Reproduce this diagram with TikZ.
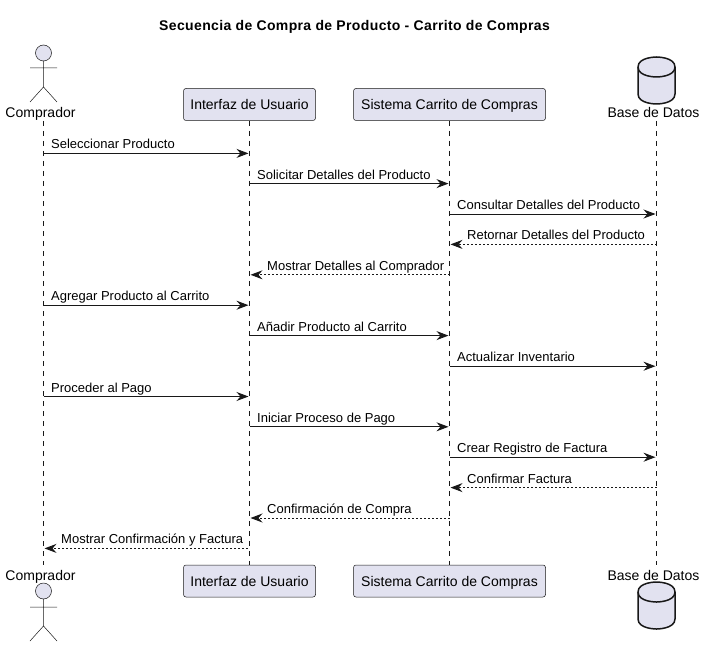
\documentclass[tikz,border=0pt]{standalone}
\usepackage{fontspec}
\setmainfont{Liberation Sans}
\usetikzlibrary{arrows.meta}
\definecolor{partfill}{HTML}{E2E2F0}
\definecolor{partline}{HTML}{181818}
\tikzset{
  x=1pt,y=-1pt,
  msgtext/.style={inner sep=0pt,anchor=base west,font=\fontsize{13}{15}\selectfont,text=black},
  parttext/.style={inner sep=0pt,anchor=base,font=\fontsize{14}{16}\selectfont,text=black},
  titletext/.style={inner sep=0pt,anchor=base,font=\fontsize{14}{16}\selectfont\bfseries\addfontfeature{LetterSpace=2.6},text=black},
  partbox/.style={draw=partline,line width=0.5pt,fill=partfill,rounded corners=2.5pt,minimum height=32pt,inner sep=0pt,anchor=center,text height=11pt,text depth=0pt,font=\fontsize{14}{16}\selectfont},
  lifeline/.style={draw=partline,line width=0.5pt,dash pattern=on 5pt off 5pt},
  actorline/.style={draw=partline,line width=0.5pt},
  dbline/.style={draw=partline,line width=1.5pt,fill=partfill},
  call/.style={draw=partline,line width=1pt,-{Stealth[length=12pt,width=9pt,inset=4pt]}},
  reply/.style={draw=partline,line width=1pt,dash pattern=on 2pt off 2pt,-{Stealth[length=12pt,width=9pt,inset=4pt]}},
}
\begin{document}
\begin{tikzpicture}
\useasboundingbox (0,0) rectangle (706,647);
% title
\node[titletext] (title) at (354.5,30.5) {Secuencia de Compra de Producto - Carrito de Compras};
% lifeline anchors
\coordinate (buyerT) at (43.5,121);
\coordinate (buyerB) at (43.5,565);
\coordinate (dbT) at (656.5,121);
\coordinate (dbB) at (656.5,565);
% participants
\node[partbox,minimum width=132pt] (uiT) at (249.5,104.5) {Interfaz de Usuario};
\node[partbox,minimum width=132pt] (uiB) at (249.5,581) {Interfaz de Usuario};
\node[partbox,minimum width=192pt] (sysT) at (449.5,104.5) {Sistema Carrito de Compras};
\node[partbox,minimum width=192pt] (sysB) at (449.5,581) {Sistema Carrito de Compras};
\node[parttext] (buyerLT) at (40.5,118) {Comprador};
\node[parttext] (buyerLB) at (40.5,580) {Comprador};
\node[parttext] (dbLT) at (653.5,118) {Base de Datos};
\node[parttext] (dbLB) at (653.5,580) {Base de Datos};
% lifelines
\draw[lifeline] (buyerT) -- (buyerB);
\draw[lifeline] (uiT) -- (uiB);
\draw[lifeline] (sysT) -- (sysB);
\draw[lifeline] (dbT) -- (dbB);
% actors
\draw[actorline,fill=partfill] (43.5,53) circle (8);
\draw[actorline] (43.5,61) -- (43.5,87) (30,68) -- (57,68) (30,102) -- (43.5,87) -- (57,102);
\draw[actorline,fill=partfill] (43.5,591) circle (8);
\draw[actorline] (43.5,599) -- (43.5,626) (30,607) -- (57,607) (30,641) -- (43.5,626) -- (57,641);
% databases
\draw[dbline] (638,67) .. controls (638,57) and (656.5,57) .. (656.5,57) .. controls (656.5,57) and (675,57) .. (675,67) -- (675,94) .. controls (675,104) and (656.5,104) .. (656.5,104) .. controls (656.5,104) and (638,104) .. (638,94) -- cycle;
\draw[draw=partline,line width=1.5pt] (638,67) .. controls (638,77) and (656.5,77) .. (656.5,77) .. controls (656.5,77) and (675,77) .. (675,67);
\draw[dbline] (638,592) .. controls (638,582) and (656.5,582) .. (656.5,582) .. controls (656.5,582) and (675,582) .. (675,592) -- (675,619) .. controls (675,629) and (656.5,629) .. (656.5,629) .. controls (656.5,629) and (638,629) .. (638,619) -- cycle;
\draw[draw=partline,line width=1.5pt] (638,592) .. controls (638,602) and (656.5,602) .. (656.5,602) .. controls (656.5,602) and (675,602) .. (675,592);
% message rows
\foreach \n/\y in {1/153.4,2/183.6,3/214,4/244.4,5/274.8,6/305.2,7/335.6,8/366.2,9/396.5,10/426.8,11/457.2,12/487.6,13/518,14/548.4}
  \coordinate (r\n) at (0,\y);
% messages
\draw[call] (buyerT|-r1) -- ([xshift=-1pt]uiT.south|-r1);
\node[msgtext] (t1) at ([xshift=51pt,yshift=4.5pt]r1) {Seleccionar Producto};
\draw[call] (uiT.south|-r2) -- ([xshift=-1pt]sysT.south|-r2);
\node[msgtext] (t2) at ([xshift=257pt,yshift=4.5pt]r2) {Solicitar Detalles del Producto};
\draw[call] (sysT.south|-r3) -- ([xshift=-1pt]dbT|-r3);
\node[msgtext] (t3) at ([xshift=457pt,yshift=4.5pt]r3) {Consultar Detalles del Producto};
\draw[reply] (dbT|-r4) -- ([xshift=1pt]sysT.south|-r4);
\node[msgtext] (t4) at ([xshift=467pt,yshift=4.5pt]r4) {Retornar Detalles del Producto};
\draw[reply] (sysT.south|-r5) -- ([xshift=1pt]uiT.south|-r5);
\node[msgtext] (t5) at ([xshift=267pt,yshift=4.5pt]r5) {Mostrar Detalles al Comprador};
\draw[call] (buyerT|-r6) -- ([xshift=-1pt]uiT.south|-r6);
\node[msgtext] (t6) at ([xshift=51pt,yshift=4.5pt]r6) {Agregar Producto al Carrito};
\draw[call] (uiT.south|-r7) -- ([xshift=-1pt]sysT.south|-r7);
\node[msgtext] (t7) at ([xshift=257pt,yshift=4.5pt]r7) {Añadir Producto al Carrito};
\draw[call] (sysT.south|-r8) -- ([xshift=-1pt]dbT|-r8);
\node[msgtext] (t8) at ([xshift=457pt,yshift=4.5pt]r8) {Actualizar Inventario};
\draw[call] (buyerT|-r9) -- ([xshift=-1pt]uiT.south|-r9);
\node[msgtext] (t9) at ([xshift=51pt,yshift=4.5pt]r9) {Proceder al Pago};
\draw[call] (uiT.south|-r10) -- ([xshift=-1pt]sysT.south|-r10);
\node[msgtext] (t10) at ([xshift=257pt,yshift=4.5pt]r10) {Iniciar Proceso de Pago};
\draw[call] (sysT.south|-r11) -- ([xshift=-1pt]dbT|-r11);
\node[msgtext] (t11) at ([xshift=457pt,yshift=4.5pt]r11) {Crear Registro de Factura};
\draw[reply] (dbT|-r12) -- ([xshift=1pt]sysT.south|-r12);
\node[msgtext] (t12) at ([xshift=467pt,yshift=4.5pt]r12) {Confirmar Factura};
\draw[reply] (sysT.south|-r13) -- ([xshift=1pt]uiT.south|-r13);
\node[msgtext] (t13) at ([xshift=267pt,yshift=4.5pt]r13) {Confirmación de Compra};
\draw[reply] ([xshift=-2pt]uiT.south|-r14) -- ([xshift=1pt]buyerT|-r14);
\node[msgtext] (t14) at ([xshift=61pt,yshift=4.5pt]r14) {Mostrar Confirmación y Factura};
\end{tikzpicture}
\end{document}
